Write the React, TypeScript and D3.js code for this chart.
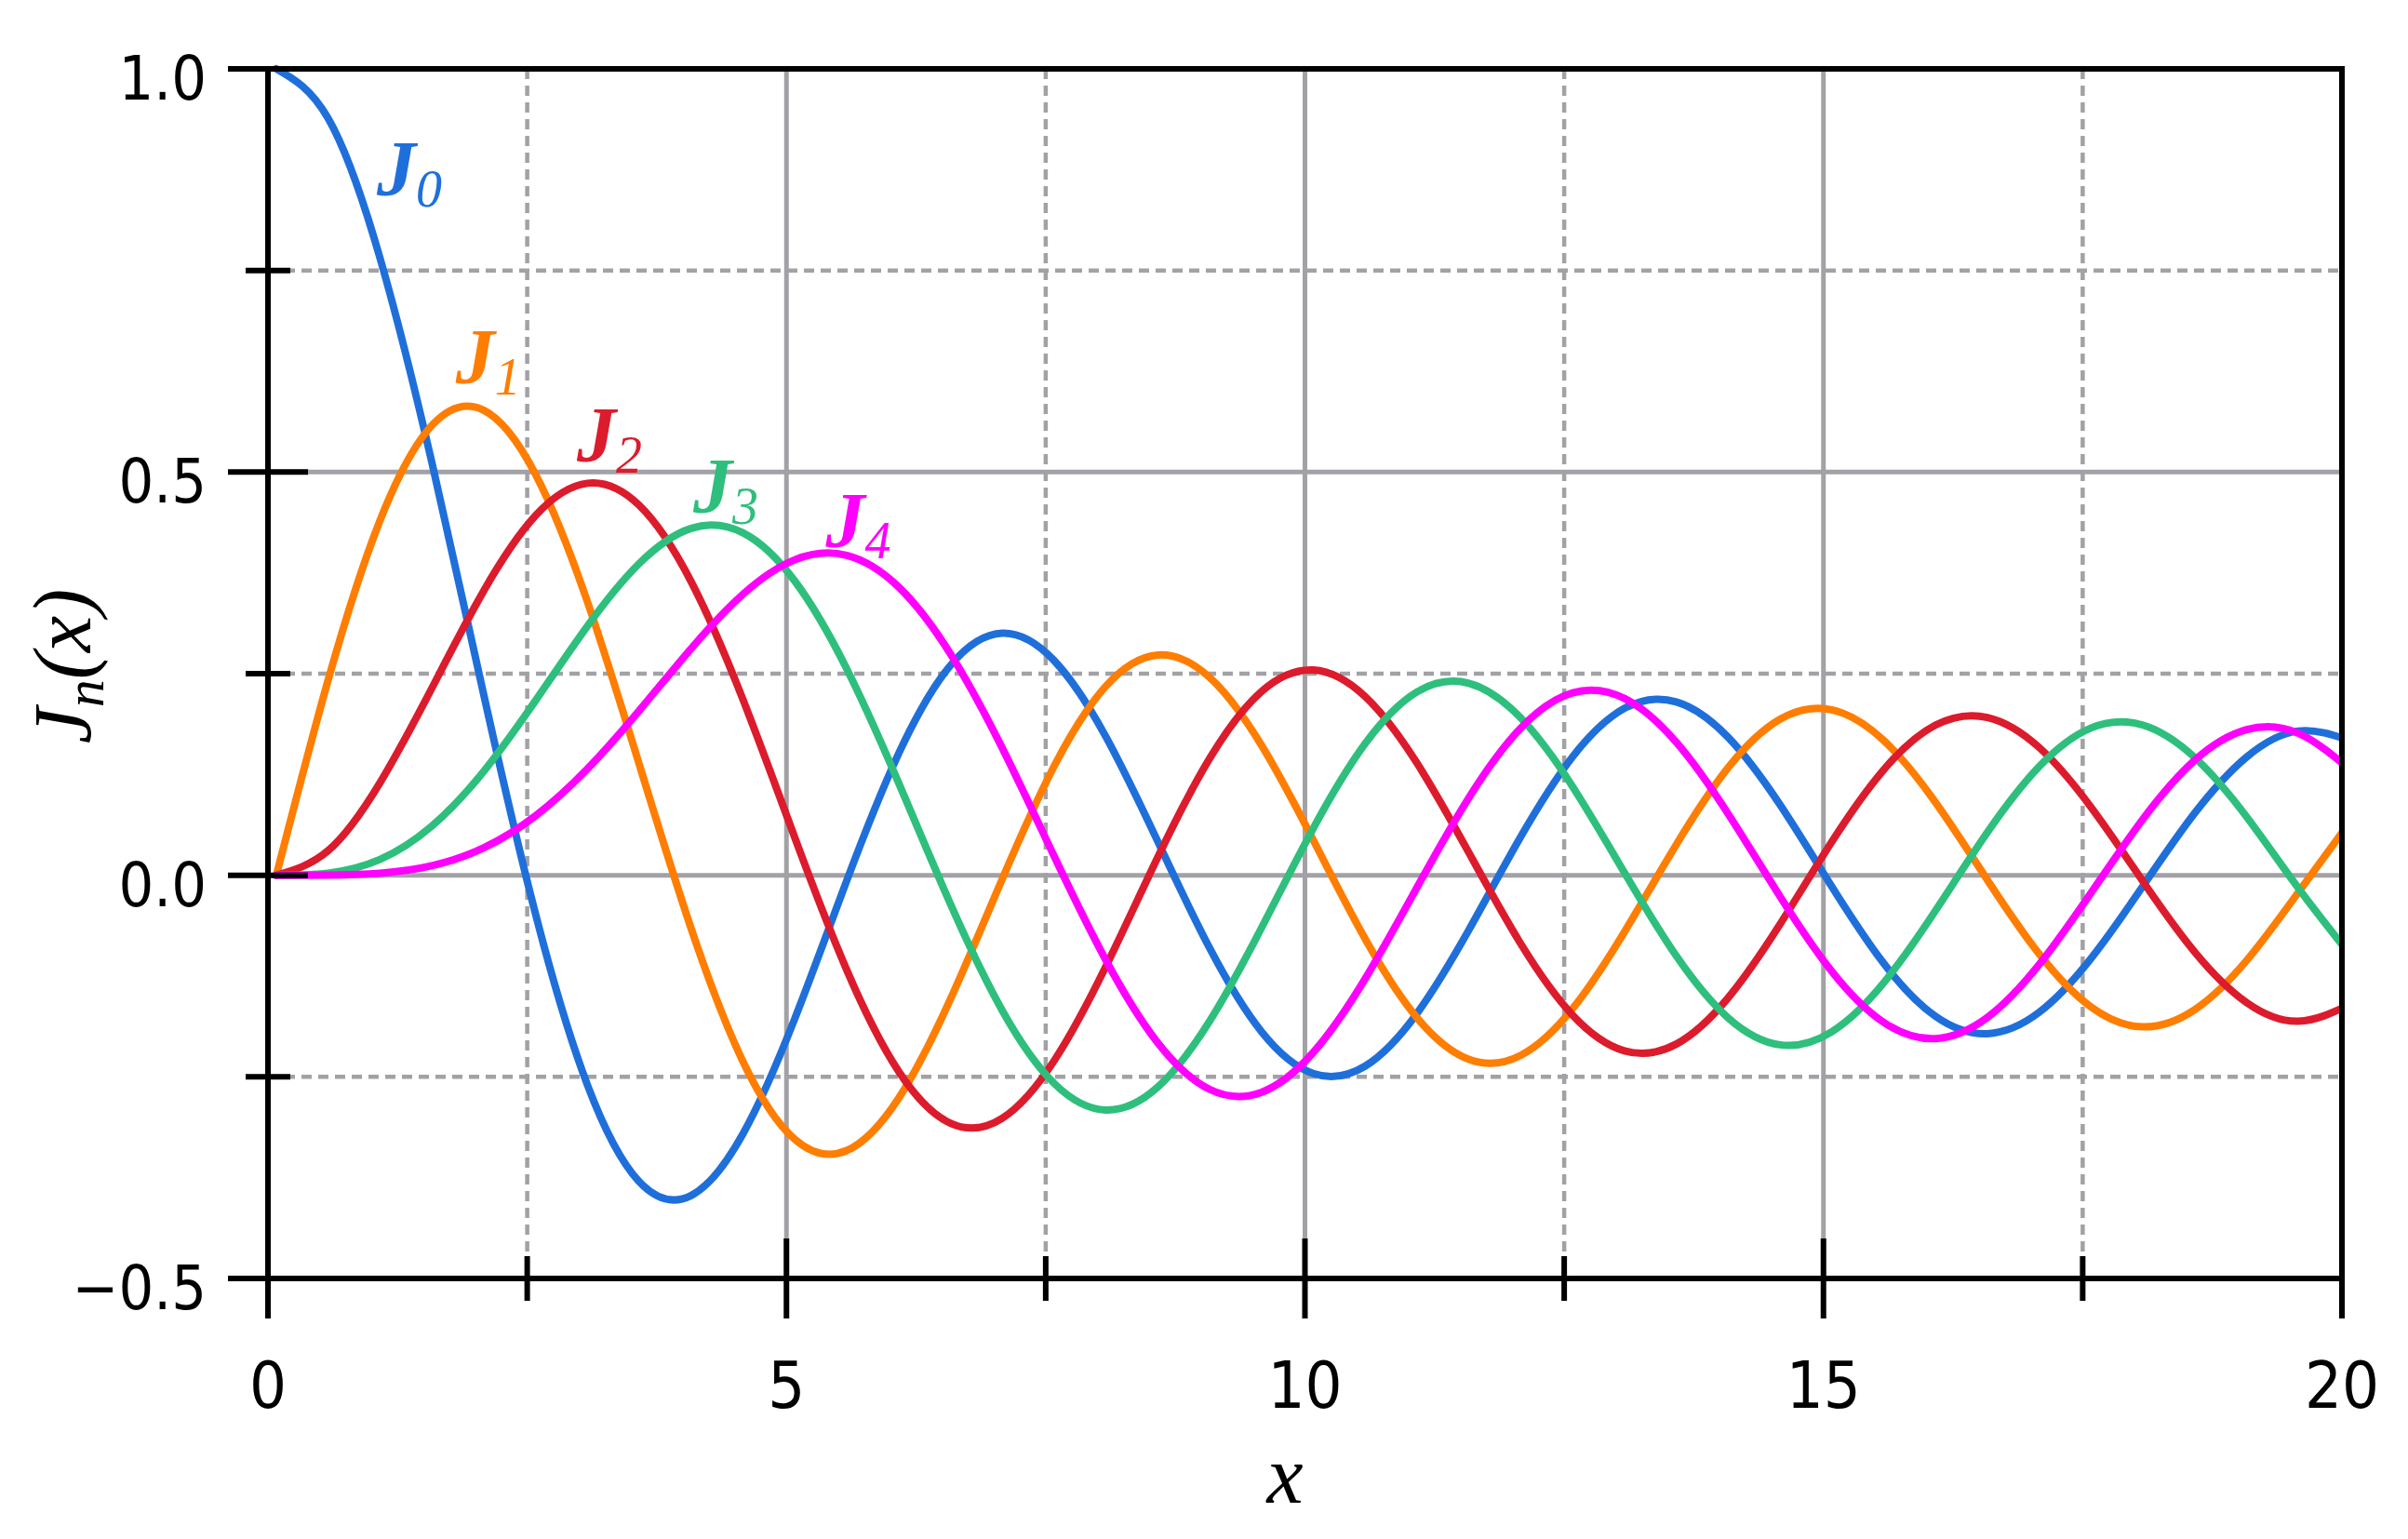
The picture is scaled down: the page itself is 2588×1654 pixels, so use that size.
import React from "react";
import * as d3 from "d3";

// Sample positions along x
const X_SAMPLES = [
  0, 0.5, 1, 1.5, 2, 2.5, 3, 3.5, 4, 4.5, 5, 5.5, 6, 6.5, 7, 7.5, 8, 8.5, 9, 9.5,
  10, 10.5, 11, 11.5, 12, 12.5, 13, 13.5, 14, 14.5, 15, 15.5, 16, 16.5, 17, 17.5,
  18, 18.5, 19, 19.5, 20,
];

// Series values at the sample positions
const J0_VALUES = [
  1.0, 0.9385, 0.7652, 0.5118, 0.2239, -0.0484, -0.2601, -0.3801, -0.3971, -0.3205,
  -0.1776, -0.0068, 0.1506, 0.2601, 0.3001, 0.2663, 0.1717, 0.0419, -0.0903, -0.1939,
  -0.2459, -0.2366, -0.1712, -0.0677, 0.0477, 0.1469, 0.2069, 0.215, 0.1711, 0.0875,
  -0.0142, -0.1092, -0.1749, -0.1964, -0.1699, -0.1031, -0.0134, 0.0772, 0.1466, 0.1789,
  0.167,
];
const J1_VALUES = [
  0.0, 0.2423, 0.4401, 0.5579, 0.5767, 0.4971, 0.3391, 0.1374, -0.066, -0.2311,
  -0.3276, -0.3414, -0.2767, -0.1538, -0.0047, 0.1352, 0.2346, 0.2731, 0.2453, 0.1613,
  0.0435, -0.0789, -0.1768, -0.2284, -0.2234, -0.1655, -0.0703, 0.038, 0.1334, 0.1934,
  0.2051, 0.1672, 0.0904, -0.0058, -0.0977, -0.1634, -0.188, -0.1666, -0.1057, -0.0209,
  0.0668,
];
const J2_VALUES = [
  0.0, 0.0306, 0.1149, 0.2321, 0.3528, 0.4461, 0.4861, 0.4586, 0.3641, 0.2178,
  0.0466, -0.1173, -0.2429, -0.3074, -0.3014, -0.2302, -0.113, 0.0224, 0.1448, 0.2279,
  0.2546, 0.2216, 0.139, 0.028, -0.0849, -0.1734, -0.2177, -0.2094, -0.152, -0.0608,
  0.0416, 0.1308, 0.1862, 0.1957, 0.1584, 0.0844, -0.0075, -0.0952, -0.1578, -0.181,
  -0.1603,
];
const J3_VALUES = [
  0.0, 0.0026, 0.0196, 0.061, 0.1289, 0.2167, 0.3091, 0.3867, 0.4302, 0.4247,
  0.3648, 0.2561, 0.1148, -0.0354, -0.1676, -0.258, -0.2911, -0.2626, -0.1809, -0.0653,
  0.0584, 0.1633, 0.2273, 0.2381, 0.1951, 0.11, 0.0033, -0.1, -0.1768, -0.2102,
  -0.194, -0.1334, -0.0438, 0.0532, 0.1349, 0.1827, 0.1863, 0.146, 0.0725, -0.0162,
  -0.0989,
];
const J4_VALUES = [
  0.0, 0.0002, 0.0025, 0.0118, 0.034, 0.0738, 0.132, 0.2043, 0.2811, 0.3485,
  0.3912, 0.3967, 0.3576, 0.2747, 0.1578, 0.0238, -0.1054, -0.2078, -0.2655, -0.2691,
  -0.2196, -0.1283, -0.015, 0.0962, 0.1825, 0.2262, 0.2193, 0.165, 0.0762, -0.0262,
  -0.1192, -0.1824, -0.2026, -0.1764, -0.1107, -0.0218, 0.0696, 0.1426, 0.1806, 0.176,
  0.1307,
];

const SERIES_VALUES = [J0_VALUES, J1_VALUES, J2_VALUES, J3_VALUES, J4_VALUES];
const SERIES_SUBSCRIPTS = ["0", "1", "2", "3", "4"];
const SERIES_COLORS = ["#1f6fdb", "#ff7d00", "#dc1b2c", "#2ebf7d", "#ff00ff"];
// label anchor points in data coordinates (x, Jn)
const LABEL_X = [1.05, 1.81, 2.98, 4.1, 5.38];
const LABEL_Y = [0.843, 0.61, 0.513, 0.45, 0.407];

const X_MAJOR = [0, 5, 10, 15, 20];
const X_MINOR = [2.5, 7.5, 12.5, 17.5];
const X_TICK_LABELS = ["0", "5", "10", "15", "20"];
const Y_MAJOR = [-0.5, 0, 0.5, 1.0];
const Y_MINOR = [-0.25, 0.25, 0.75];
const Y_TICK_LABELS = ["\u22120.5", "0.0", "0.5", "1.0"];

const W = 2588;
const H = 1654;
const LEFT = 288;
const RIGHT = 2517;
const TOP = 74;
const BOTTOM = 1374;
// the curves in the original sit slightly right of the axis frame
const CURVE_SHIFT = 9;

const TICK_FONT = "'DejaVu Sans Condensed', 'DejaVu Sans', sans-serif";
const SERIF = "'Liberation Serif', 'DejaVu Serif', serif";

export default function App() {
  const xScale = d3.scaleLinear().domain([0, 20]).range([LEFT, RIGHT]);
  const xCurve = d3
    .scaleLinear()
    .domain([0, 20])
    .range([LEFT + CURVE_SHIFT, RIGHT + CURVE_SHIFT]);
  const yScale = d3.scaleLinear().domain([-0.5, 1.0]).range([BOTTOM, TOP]);

  const line = d3
    .line<number>()
    .x((_, i) => xCurve(X_SAMPLES[i]))
    .y((d) => yScale(d))
    .curve(d3.curveNatural);

  const gridGray = "#a2a2a6";

  return (
    <svg
      width={W}
      height={H}
      style={{ position: "absolute", left: 0, top: 0, background: "#fff" }}
    >
      <defs>
        <clipPath id="plotClip">
          <rect x={LEFT} y={TOP - 6} width={RIGHT - LEFT} height={BOTTOM - TOP + 12} />
        </clipPath>
      </defs>
      <rect x={0} y={0} width={W} height={H} fill="#fff" />
      {/* dashed minor grid */}
      {X_MINOR.map((v) => (
        <line
          key={"gxm" + v}
          x1={xScale(v)}
          x2={xScale(v)}
          y1={TOP}
          y2={BOTTOM}
          stroke={gridGray}
          strokeWidth={4.5}
          strokeDasharray="11 7"
        />
      ))}
      {Y_MINOR.map((v) => (
        <line
          key={"gym" + v}
          x1={LEFT}
          x2={RIGHT}
          y1={yScale(v)}
          y2={yScale(v)}
          stroke={gridGray}
          strokeWidth={4.5}
          strokeDasharray="11 7"
        />
      ))}
      {/* solid major grid */}
      {X_MAJOR.filter((v) => v > 0 && v < 20).map((v) => (
        <line
          key={"gx" + v}
          x1={xScale(v)}
          x2={xScale(v)}
          y1={TOP}
          y2={BOTTOM}
          stroke={gridGray}
          strokeWidth={5}
        />
      ))}
      {Y_MAJOR.filter((v) => v > -0.5 && v < 1).map((v) => (
        <line
          key={"gy" + v}
          x1={LEFT}
          x2={RIGHT}
          y1={yScale(v)}
          y2={yScale(v)}
          stroke={gridGray}
          strokeWidth={5}
        />
      ))}

      {/* curves */}
      <g clipPath="url(#plotClip)">
        {SERIES_VALUES.map((vals, i) => (
          <path
            key={"s" + i}
            d={line(vals) || ""}
            fill="none"
            stroke={SERIES_COLORS[i]}
            strokeWidth={8}
            strokeLinejoin="round"
            strokeLinecap="round"
          />
        ))}
      </g>

      {/* frame */}
      <rect
        x={LEFT}
        y={TOP}
        width={RIGHT - LEFT}
        height={BOTTOM - TOP}
        fill="none"
        stroke="#000"
        strokeWidth={6}
      />

      {/* ticks */}
      {X_MAJOR.map((v) => (
        <line
          key={"tx" + v}
          x1={xScale(v)}
          x2={xScale(v)}
          y1={BOTTOM - 43}
          y2={BOTTOM + 43}
          stroke="#000"
          strokeWidth={6}
        />
      ))}
      {X_MINOR.map((v) => (
        <line
          key={"txm" + v}
          x1={xScale(v)}
          x2={xScale(v)}
          y1={BOTTOM - 24}
          y2={BOTTOM + 24}
          stroke="#000"
          strokeWidth={6}
        />
      ))}
      {Y_MAJOR.map((v) => (
        <line
          key={"ty" + v}
          x1={LEFT - 43}
          x2={LEFT + 43}
          y1={yScale(v)}
          y2={yScale(v)}
          stroke="#000"
          strokeWidth={6}
        />
      ))}
      {Y_MINOR.map((v) => (
        <line
          key={"tym" + v}
          x1={LEFT - 24}
          x2={LEFT + 24}
          y1={yScale(v)}
          y2={yScale(v)}
          stroke="#000"
          strokeWidth={6}
        />
      ))}

      {/* tick labels */}
      {Y_MAJOR.map((v, i) => (
        <text
          key={"ly" + v}
          x={222}
          y={yScale(v) + 33}
          textAnchor="end"
          fontFamily={TICK_FONT}
          fontStretch="condensed"
          fontSize={66}
          fill="#000"
        >
          {Y_TICK_LABELS[i]}
        </text>
      ))}
      {X_MAJOR.map((v, i) => (
        <text
          key={"lx" + v}
          x={xScale(v)}
          y={1513}
          textAnchor="middle"
          fontFamily={TICK_FONT}
          fontStretch="condensed"
          fontSize={70}
          fill="#000"
        >
          {X_TICK_LABELS[i]}
        </text>
      ))}

      {/* axis titles */}
      <text
        x={1381}
        y={1615}
        textAnchor="middle"
        fontFamily={SERIF}
        fontStyle="italic"
        fontSize={88}
        fill="#000"
      >
        x
      </text>
      <text
        transform="translate(97,716) rotate(-90)"
        textAnchor="middle"
        fontFamily={SERIF}
        fontStyle="italic"
        fontSize={88}
        fill="#000"
      >
        J
        <tspan fontSize={60} dy={14}>
          n
        </tspan>
        <tspan dy={-14}>(x)</tspan>
      </text>

      {/* series labels */}
      {SERIES_SUBSCRIPTS.map((s, i) => (
        <text
          key={"lab" + i}
          x={xScale(LABEL_X[i])}
          y={yScale(LABEL_Y[i])}
          fontFamily={SERIF}
          fontStyle="italic"
          fontWeight="bold"
          fontSize={84}
          fill={SERIES_COLORS[i]}
        >
          J
          <tspan fontWeight="normal" fontSize={56} dy={12}>
            {s}
          </tspan>
        </text>
      ))}
    </svg>
  );
}
